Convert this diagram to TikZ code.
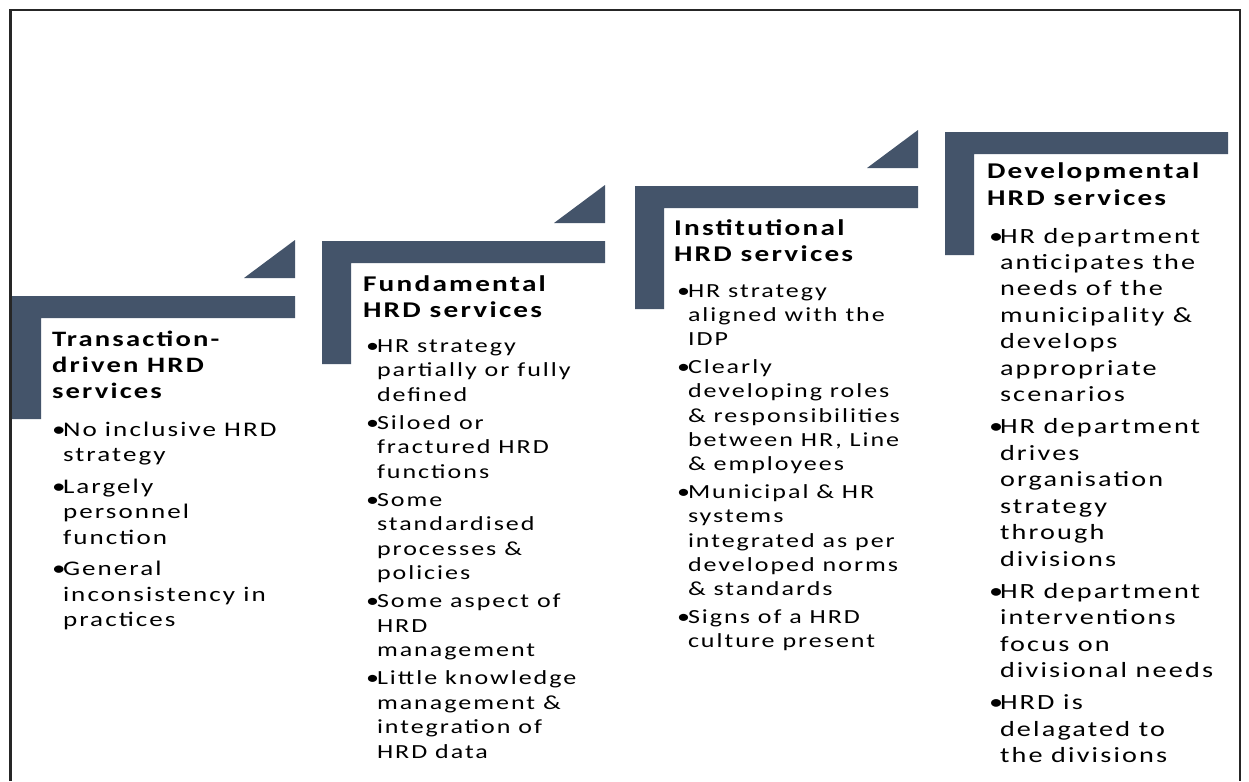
\documentclass[tikz,border=0pt]{standalone}
\usepackage{fontspec}
\newfontfamily\stepfont{Carlito}[FakeStretch=1.3,LetterSpace=10]
\definecolor{stepblue}{HTML}{44546A}
% one line of a text block, and a hanging bullet before it
\newcommand{\sline}[1]{\hbox{#1}}
\newcommand{\bul}{\llap{\makebox[11pt][l]{•}}}
\begin{document}
\begin{tikzpicture}[x=1pt,y=-1pt,
  every node/.style={inner sep=0pt,outer sep=0pt,text=black},
  heading/.style 2 args={anchor=base west,
    font=\stepfont\bfseries\fontsize{#1}{#2}\selectfont},
  body/.style 2 args={anchor=base west,
    font=\stepfont\fontsize{#1}{#2}\selectfont},
  stair/.pic={
    \fill[stepblue] (0,0) -- (283,0) -- (283,22) -- (29,22) -- (29,123) -- (0,123) -- cycle;
  },
  riser/.pic={
    \fill[stepblue] (232,-18) -- (283,-18) -- (283,-56) -- cycle;
  }]
\useasboundingbox (0,0) rectangle (1249,781);
\fill[white] (0,0) rectangle (1249,781);
% frame (its lower edge lies below the page)
\draw[line width=2.5pt,black!85] (10.5,781) -- (10.5,10) -- (1240,10) -- (1240,781);

% the four steps
\pic at (12,296) {stair};  \pic at (12,296) {riser};
\pic at (322,241) {stair}; \pic at (322,241) {riser};
\pic at (635,186) {stair}; \pic at (635,186) {riser};
\pic at (945,132) {stair};

% step 1
\node[heading={22}{26}] (h1) at (52,346) {\vtop{%
\sline{Transaction-}\sline{driven HRD}\sline{services}}};
\node[body={20.8}{25.5}] (b1) at (63,436) {\vtop{%
\sline{\bul No inclusive HRD}\sline{strategy}\vskip6pt
\sline{\bul Largely}\sline{personnel}\sline{function}\vskip6pt
\sline{\bul General}\sline{inconsistency in}\sline{practices}}};

% step 2
\node[heading={22.5}{26}] (h2) at (363,291) {\vtop{%
\sline{Fundamental}\sline{HRD services}}};
\node[body={20}{24.5}] (b2) at (377,352) {\vtop{%
\sline{\bul HR strategy}\sline{partially or fully}\sline{defined}\vskip3.5pt
\sline{\bul Siloed or}\sline{fractured HRD}\sline{functions}\vskip3.5pt
\sline{\bul Some}\sline{standardised}\sline{processes \&}\sline{policies}\vskip3.5pt
\sline{\bul Some aspect of}\sline{HRD}\sline{management}\vskip3.5pt
\sline{\bul Little knowledge}\sline{management \&}\sline{integration of}\sline{HRD data}}};

% step 3
\node[heading={22.5}{26}] (h3) at (674,235) {\vtop{%
\sline{Institutional}\sline{HRD services}}};
\node[body={20}{24.3}] (b3) at (688,297) {\vtop{%
\sline{\bul HR strategy}\sline{aligned with the}\sline{IDP}\vskip3.5pt
\sline{\bul Clearly}\sline{developing roles}\sline{\& responsibilities}\sline{between HR, Line}\sline{\& employees}\vskip3.5pt
\sline{\bul Municipal \& HR}\sline{systems}\sline{integrated as per}\sline{developed norms}\sline{\& standards}\vskip3.5pt
\sline{\bul Signs of a HRD}\sline{culture present}}};

% step 4
\node[heading={22.5}{27}] (h4) at (987,178) {\vtop{%
\sline{Developmental}\sline{HRD services}}};
\node[body={21.7}{26.45}] (b4) at (1000,243) {\vtop{%
\sline{\bul HR department}\sline{anticipates the}\sline{needs of the}\sline{municipality \&}\sline{develops}\sline{appropriate}\sline{scenarios}\vskip5.7pt
\sline{\bul HR department}\sline{drives}\sline{organisation}\sline{strategy}\sline{through}\sline{divisions}\vskip5.7pt
\sline{\bul HR department}\sline{interventions}\sline{focus on}\sline{divisional needs}\vskip5.7pt
\sline{\bul HRD is}\sline{delagated to}\sline{the divisions}}};
\end{tikzpicture}
\end{document}
